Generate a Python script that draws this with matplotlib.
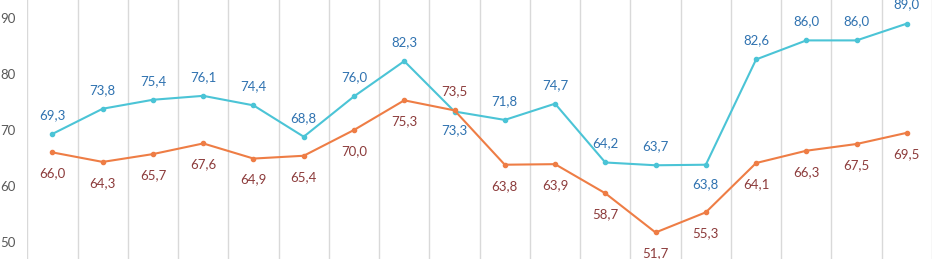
import matplotlib
matplotlib.use("Agg")
import matplotlib.pyplot as plt

blue = [69.3, 73.8, 75.4, 76.1, 74.4, 68.8, 76.0, 82.3, 73.3, 71.8, 74.7, 64.2, 63.7, 63.8, 82.6, 86.0, 86.0, 89.0]
orange = [66.0, 64.3, 65.7, 67.6, 64.9, 65.4, 70.0, 75.3, 73.5, 63.8, 63.9, 58.7, 51.7, 55.3, 64.1, 66.3, 67.5, 69.5]
yticks = [50, 60, 70, 80, 90]
blue_below = {8, 13}
orange_above = {8}

plt.rcParams['font.family'] = ['Lato', 'DejaVu Sans']

fig = plt.figure(figsize=(9.32, 2.59), dpi=100)
ax = fig.add_axes([27.3 / 932, 0, 1 - 27.3 / 932, 1])
x = list(range(len(blue)))

ax.plot(x, blue, color='#4BC4D6', lw=1.5, marker='o', ms=3, zorder=3)
ax.plot(x, orange, color='#EE7D45', lw=1.5, marker='o', ms=3, zorder=3)

for i, v in enumerate(blue):
    off = -19 if i in blue_below else 19
    ax.annotate(f"{v:.1f}".replace('.', ','), (i, v), xytext=(0, off * 0.72),
                textcoords='offset points', ha='center', va='center',
                color='#2F72B0', fontsize=9.5)
for i, v in enumerate(orange):
    off = 19 if i in orange_above else -21
    ax.annotate(f"{v:.1f}".replace('.', ','), (i, v), xytext=(0, off * 0.72),
                textcoords='offset points', ha='center', va='center',
                color='#8C3B3B', fontsize=9.5)

ax.set_xlim(-0.5, -0.5 + (932 - 27.3) / 51)
ax.set_ylim(50 - 17 / 5.6, 90 + 18 / 5.6)
ax.set_yticks(yticks)
ax.set_yticklabels([str(t) for t in yticks], color='#595959', fontsize=9.5)
ax.tick_params(axis='y', length=0, pad=8.6)
ax.set_xticks([i - 0.5 for i in range(len(blue) + 1)])
ax.set_xticklabels([])
ax.tick_params(axis='x', length=0)
ax.grid(axis='x', color='#D9D9D9', lw=1)
for s in ax.spines.values():
    s.set_visible(False)

fig.savefig('out.png', dpi=100)
